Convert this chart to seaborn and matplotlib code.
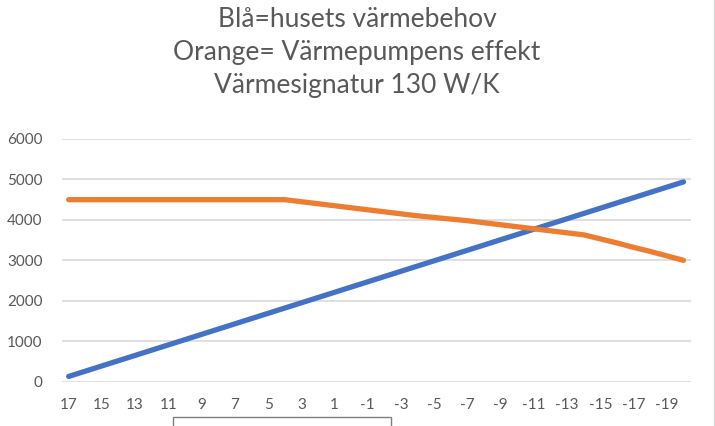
import pandas as pd
import matplotlib.pyplot as plt
import seaborn as sns
from matplotlib.patches import Rectangle

# utetemperatur (kategorier på x-axeln)
temps = [17, 16, 15, 14, 13, 12, 11, 10, 9, 8, 7, 6, 5, 4, 3, 2, 1, 0, -1,
         -2, -3, -4, -5, -6, -7, -8, -9, -10, -11, -12, -13, -14, -15, -16,
         -17, -18, -19, -20]

# husets värmebehov (W)
demand = [130, 260, 390, 520, 650, 780, 910, 1040, 1170, 1300, 1430, 1560,
          1690, 1820, 1950, 2080, 2210, 2340, 2470, 2600, 2730, 2860, 2990,
          3120, 3250, 3380, 3510, 3640, 3770, 3900, 4030, 4160, 4290, 4420,
          4550, 4680, 4810, 4940]

# värmepumpens effekt (W)
pump = [4500, 4500, 4500, 4500, 4500, 4500, 4500, 4500, 4500, 4500, 4500,
        4500, 4500, 4500, 4450, 4400, 4350, 4300, 4250, 4200, 4150, 4100,
        4060, 4020, 3980, 3930, 3880, 3830, 3780, 3730, 3680, 3630, 3530,
        3430, 3320, 3220, 3110, 3000]

title_lines = ['Blå=husets värmebehov', 'Orange= Värmepumpens effekt',
               'Värmesignatur 130 W/K']

df = pd.DataFrame({
    'pos': list(range(len(temps))) * 2,
    'W': demand + pump,
    'serie': ['behov'] * len(temps) + ['pump'] * len(temps),
})

sns.set_style('white')
plt.rcParams['font.family'] = ['Lato', 'DejaVu Sans']

fig = plt.figure(figsize=(7.15, 4.26), dpi=100)
ax = fig.add_axes([62 / 715, 44.3 / 426, 629 / 715, 242.7 / 426])

sns.lineplot(data=df, x='pos', y='W', hue='serie',
             palette=['#4472C4', '#ED7D31'], linewidth=3.8,
             legend=False, ax=ax, solid_capstyle='round')

ax.set_xlim(-0.4, len(temps) - 0.55)
ax.set_ylim(0, 6000)
ax.set_yticks(range(0, 6001, 1000))
ax.set_xticks(range(0, len(temps), 2))
ax.set_xticklabels([str(t) for t in temps[::2]])
ax.yaxis.grid(True, color='#D9D9D9', linewidth=1.2)
ax.set_axisbelow(True)
for s in ax.spines.values():
    s.set_visible(False)
ax.tick_params(axis='both', length=0, labelsize=11, colors='#595959')
ax.tick_params(axis='x', pad=12)
ax.tick_params(axis='y', pad=14)
ax.set_xlabel('')
ax.set_ylabel('')

# tre titelrader, en i taget
for i, line in enumerate(title_lines):
    fig.text(357 / 715, 1 - (27 + 33 * i) / 426, line, ha='center',
             va='baseline', fontsize=19, color='#595959')

# ram nedanför diagrammet och kant till höger
fig.add_artist(Rectangle((173 / 715, -0.05), 218 / 715, 0.05 + 9 / 426,
                         transform=fig.transFigure, fill=False,
                         edgecolor='#7F7F7F', linewidth=1))
fig.add_artist(plt.Line2D([714 / 715, 714 / 715], [0, 1],
                          transform=fig.transFigure, color='#D9D9D9',
                          linewidth=1))

fig.savefig('out.png', dpi=100)
